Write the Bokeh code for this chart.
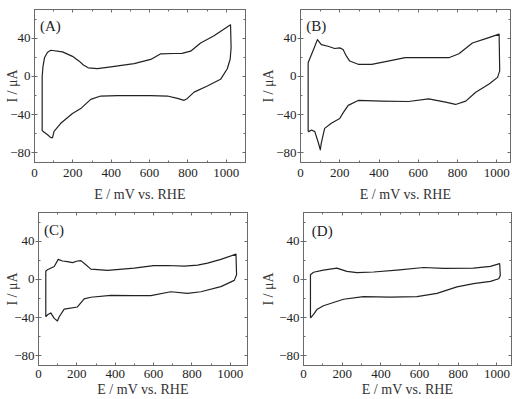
from bokeh.plotting import figure
from bokeh.layouts import column, row
from bokeh.models import Label, LinearAxis, SingleIntervalTicker, Range1d
from bokeh.embed import file_html
from bokeh.resources import INLINE

# Cyclic voltammograms, potential E (mV vs. RHE) and current I (uA), one closed loop per panel
A_E = [40, 40, 44, 52, 68, 85, 146, 198, 233, 255, 280, 328, 398, 519, 606, 656, 727, 769, 814, 866, 936, 1022,
       1025, 1020, 1005, 970, 901, 832, 797, 780, 745, 693, 606, 432, 345, 293, 241, 198, 137, 102, 94, 85, 68, 42, 40]
A_I = [-57, 0, 10, 19.5, 25.3, 27.4, 25.7, 21, 16, 12, 9, 8.2, 10, 13.4, 17.8, 23.5, 24, 24.2, 26.4, 35, 42.5, 54,
       30, 18, 8, -3, -10, -16.4, -23, -25, -23, -20.5, -20, -20, -20.5, -24, -33.6, -38.7, -49, -57.5, -64, -64, -61, -57, -57]

B_E = [39, 39, 46, 56, 73, 86, 106, 140, 174, 200, 217, 234, 251, 294, 363, 465, 533, 636, 756, 807,
       876, 944, 1012, 1015, 1004, 961, 893, 842, 790, 739, 653, 550, 414, 294, 243, 217, 200, 157, 123, 106,
       101, 89, 73, 56, 42, 39]
B_I = [-57.7, 14.4, 18, 23, 31.6, 38.5, 33.3, 31.6, 29.2, 29.9, 28.1, 21.2, 16.1, 12.7, 12.7, 16.8, 19.6, 19.6, 19.6, 23.7,
       35, 39.5, 44.3, 5.8, -1, -7.9, -16.5, -25.8, -29.3, -26.8, -23.4, -26.2, -25.8, -25.1, -30.3, -38.1, -44, -49, -54.3, -69.8,
       -76.7, -68, -57.7, -56, -57.7, -57.7]

C_E = [38, 38, 47, 82, 103, 125, 151, 177, 203, 221, 247, 273, 360, 499, 600, 673, 760, 830, 882, 951,
       1030, 1033, 1021, 951, 847, 777, 690, 586, 499, 377, 273, 238, 203, 151, 134, 108, 99, 82, 64, 47, 38]
C_I = [-39, 8.5, 10.2, 13.6, 21, 19.3, 18.6, 17.6, 19.3, 19.7, 15.3, 10.8, 9.5, 11.9, 14.5, 14.6, 14, 14.9, 17, 21,
       26.4, 5, -1, -7.5, -12.9, -14.6, -12.9, -17, -17, -16.6, -18.6, -20.3, -28.8, -30.5, -31, -39, -43.4, -40.7, -35, -37, -39]

D_E = [36, 36, 52, 103, 172, 224, 276, 362, 483, 621, 724, 879, 966, 1014, 1017, 1009, 966, 879, 793, 690,
       586, 448, 310, 207, 103, 69, 52, 38, 36]
D_I = [-40, 5, 7.5, 9.8, 11.9, 8.5, 7.1, 7.8, 9.8, 12.5, 11.5, 11.9, 13.6, 16.6, 4, 0.7, -2, -4.4, -7.8, -14.6,
       -18, -18.6, -18, -20.7, -27.5, -31.5, -36.6, -40, -40]

PANEL_TAGS = ["(A)", "(B)", "(C)", "(D)"]
X_LABEL = "E / mV vs. RHE"
Y_LABEL = "I / \u03bcA"

SERIF = "Liberation Serif"
INK = "#222222"
FRAME = "#6a6a6a"
Y_MIN, Y_MAX = -90, 70


def style_axis(ax, interval, tick_in, tick_out, show_labels):
    ax.ticker = SingleIntervalTicker(interval=interval, num_minor_ticks=2)
    ax.axis_line_color = FRAME
    ax.major_tick_line_color = FRAME
    ax.minor_tick_line_color = FRAME
    ax.major_tick_in = tick_in
    ax.major_tick_out = tick_out
    ax.minor_tick_in = 2
    ax.minor_tick_out = 0
    if show_labels:
        ax.major_label_text_font = SERIF
        ax.major_label_text_font_size = "13px"
        ax.major_label_text_color = INK
        ax.axis_label_text_font = SERIF
        ax.axis_label_text_font_size = "14px"
        ax.axis_label_text_font_style = "normal"
        ax.axis_label_text_color = "#333333"
    else:
        # mirrored tick marks only
        ax.major_label_text_color = None
        ax.major_label_text_font_size = "0px"
        ax.major_label_standoff = 0


def panel(E, I, tag, width, height, left, right, top, bottom, xmax, tag_at,
          ylab_standoff, xtick_standoff, xlab_standoff):
    fw = width - left - right
    fh = height - top - bottom
    p = figure(width=width, height=height, output_backend="svg", toolbar_location=None,
               x_range=Range1d(0, xmax), y_range=Range1d(Y_MIN, Y_MAX),
               min_border_left=left, min_border_right=right,
               min_border_top=top, min_border_bottom=bottom)
    p.grid.visible = False
    p.outline_line_color = FRAME
    p.outline_line_width = 1
    p.background_fill_color = "white"
    p.border_fill_color = "white"

    xa = p.xaxis[0]
    style_axis(xa, 200, 3, 0, True)
    xa.major_label_standoff = xtick_standoff
    xa.axis_label = X_LABEL
    xa.axis_label_standoff = xlab_standoff

    ya = p.yaxis[0]
    style_axis(ya, 40, 3, 3, True)
    ya.major_label_standoff = 1
    ya.axis_label = Y_LABEL
    ya.axis_label_standoff = ylab_standoff

    top_ax = LinearAxis()
    style_axis(top_ax, 200, 3, 0, False)
    p.add_layout(top_ax, "above")
    right_ax = LinearAxis()
    style_axis(right_ax, 40, 3, 0, False)
    p.add_layout(right_ax, "right")

    p.line(E, I, line_color=INK, line_width=1.2, line_join="round")

    # panel tag, placed from a frame-relative pixel offset
    dx, dy = tag_at
    p.add_layout(Label(x=dx / fw * xmax, y=Y_MAX - dy / fh * (Y_MAX - Y_MIN), text=tag,
                       text_font=SERIF, text_font_size="15px", text_color=INK,
                       text_baseline="top", text_align="left"))
    return p


pa = panel(A_E, A_I, PANEL_TAGS[0], 256, 204, 34, 11, 9, 39, 1100, (5.5, 9), -13, 6, 7)
pb = panel(B_E, B_I, PANEL_TAGS[1], 256, 204, 44, 2, 9, 39, 1070, (5.7, 9), -3, 6, 7)
pc = panel(C_E, C_I, PANEL_TAGS[2], 256, 195, 38, 9, 8, 31, 1090, (5.6, 10), -9, 4, 1)
pd = panel(D_E, D_I, PANEL_TAGS[3], 256, 195, 47, 1, 7, 32, 1075, (8.3, 10.5), 0, 4, 1)

layout = column(row(pa, pb), row(pc, pd))
open("out.html", "w").write(file_html(layout, INLINE))
